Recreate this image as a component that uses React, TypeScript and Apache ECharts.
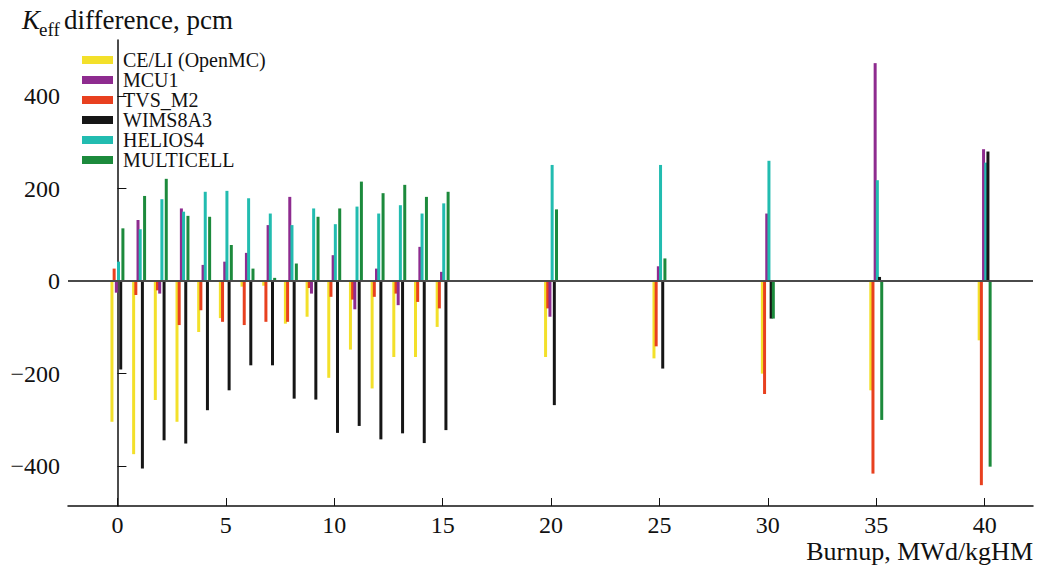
import React, { useEffect, useRef } from "react";
import * as echarts from "echarts";

// Burnup points, MWd/kgHM
const burnup = [0, 1, 2, 3, 4, 5, 6, 7, 8, 9, 10, 11, 12, 13, 14, 15, 20, 25, 30, 35, 40];

// Keff differences, pcm
const celi = [-304, -374, -257, -304, -110, -80, -12, -10, -92, -77, -209, -148, -232, -164, -164, -99, -164, -167, -200, -236, -128];
const mcu1 = [-25, 132, -27, 157, 35, 42, 61, 121, 182, -27, 56, -61, 27, -52, 74, 20, -77, 32, 146, 471, 285];
const tvsM2 = [27, -30, -20, -95, -63, -88, -95, -88, -88, -15, -34, -40, -34, -27, -45, -59, -59, -141, -244, -416, -441];
const wims = [-191, -405, -344, -351, -279, -236, -182, -182, -254, -256, -328, -313, -342, -329, -350, -322, -268, -189, -81, 9, 280];
const helios = [42, 112, 177, 150, 193, 195, 179, 146, 121, 157, 123, 161, 146, 164, 146, 168, 251, 251, 260, 218, 256];
const multicell = [114, 184, 221, 141, 139, 78, 27, 7, 38, 139, 157, 215, 190, 208, 182, 193, 155, 49, -81, -300, -401];

const xTicks = [0, 5, 10, 15, 20, 25, 30, 35, 40];
const yTicks = [-400, -200, 0, 200, 400];

const legendOrder = ["CE/LI (OpenMC)", "MCU1", "TVS_M2", "WIMS8A3", "HELIOS4", "MULTICELL"];

const SERIF = "'Liberation Serif', 'Times New Roman', serif";

// drawing order inside each burnup group (left to right)
const seriesDefs = [
  { name: "CE/LI (OpenMC)", data: celi, color: "#f3e02a" },
  { name: "TVS_M2", data: tvsM2, color: "#e8401f" },
  { name: "MCU1", data: mcu1, color: "#8e2b8f" },
  { name: "HELIOS4", data: helios, color: "#22bcb0" },
  { name: "WIMS8A3", data: wims, color: "#161616" },
  { name: "MULTICELL", data: multicell, color: "#1c8a3c" },
];

export default function App() {
  const ref = useRef<HTMLDivElement>(null);

  useEffect(() => {
    if (!ref.current) return;
    const chart = echarts.init(ref.current, null, { renderer: "svg" });

    const series: any[] = seriesDefs.map((s, i) => ({
      name: s.name,
      type: "bar",
      barWidth: 3,
      barGap: "-27%",
      itemStyle: { color: s.color },
      data: burnup.map((b, k) => [b, s.data[k]]),
      ...(i === 0
        ? {
            markLine: {
              silent: true,
              symbol: "none",
              label: { show: false },
              lineStyle: { color: "#4a4a4a", width: 2, type: "solid" },
              data: [{ yAxis: 0 }],
            },
          }
        : {}),
    }));

    chart.setOption({
      animation: false,
      backgroundColor: "#ffffff",
      grid: { left: 68, right: 4, top: 40, bottom: 59 },
      legend: {
        orient: "vertical",
        left: 82,
        top: 50,
        padding: 0,
        itemWidth: 31,
        itemHeight: 8,
        itemGap: 0,
        icon: "rect",
        data: legendOrder,
        textStyle: {
          fontFamily: SERIF,
          fontSize: 20,
          lineHeight: 20,
          color: "#111",
          padding: [0, 0, 0, 5],
        },
      },
      xAxis: {
        type: "value",
        min: -2.28,
        max: 42.23,
        axisLine: { onZero: false, lineStyle: { color: "#111", width: 1.5 } },
        axisTick: { inside: true, length: 8, customValues: xTicks, lineStyle: { color: "#111" } },
        axisLabel: {
          customValues: xTicks,
          margin: 7,
          fontFamily: SERIF,
          fontSize: 24,
          color: "#111",
        },
        splitLine: { show: false },
      },
      yAxis: {
        type: "value",
        min: -486,
        max: 521,
        axisLine: { show: true, lineStyle: { color: "#111", width: 1.5 } },
        axisTick: { show: true, inside: true, length: 9, customValues: yTicks, lineStyle: { color: "#111" } },
        axisLabel: {
          customValues: yTicks,
          margin: 8,
          fontFamily: SERIF,
          fontSize: 24,
          color: "#111",
          formatter: (v: number) => String(v).replace("-", "\u2212"),
        },
        splitLine: { show: false },
      },
      graphic: [
        {
          type: "text",
          left: 22,
          top: 6,
          style: { text: "K", fontFamily: SERIF, fontStyle: "italic", fontSize: 27, fill: "#111" },
        },
        {
          type: "text",
          left: 39,
          top: 20,
          style: { text: "eff", fontFamily: SERIF, fontSize: 19, fill: "#111" },
        },
        {
          type: "text",
          left: 64,
          top: 6,
          style: { text: "difference, pcm", fontFamily: SERIF, fontSize: 27, fill: "#111" },
        },
        {
          type: "text",
          right: 4,
          top: 538,
          style: { text: "Burnup, MWd/kgHM", fontFamily: SERIF, fontSize: 26, fill: "#111" },
        },
      ],
      series,
    });

    return () => chart.dispose();
  }, []);

  return (
    <div
      ref={ref}
      style={{ position: "fixed", left: 0, top: 0, width: 1037, height: 565 }}
    />
  );
}
